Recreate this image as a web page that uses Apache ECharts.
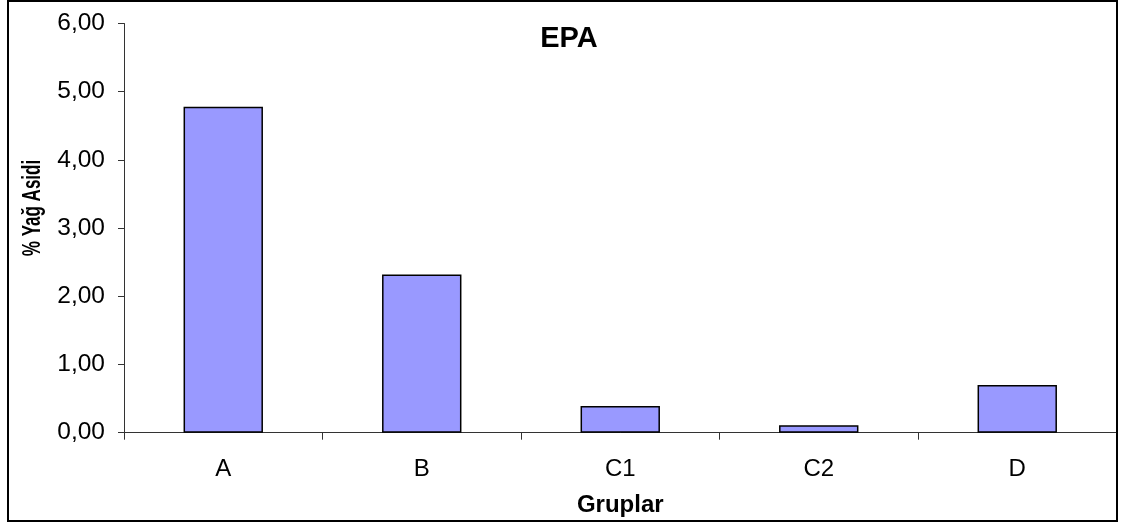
<!DOCTYPE html>
<html>
<head>
<meta charset="utf-8">
<title>EPA</title>
<script src="https://cdn.jsdelivr.net/npm/echarts@6/dist/echarts.min.js"></script>
<style>
  html, body { margin: 0; padding: 0; background: #ffffff; }
  #chart { width: 1128px; height: 523px; }
</style>
</head>
<body>
<div id="chart"></div>
<script>
// Groups and their EPA share (% of fatty acids)
const groups = ['A', 'B', 'C1', 'C2', 'D'];
const epaValues = [4.78, 2.32, 0.39, 0.11, 0.70];

const titleText = 'EPA';
const xAxisTitle = 'Gruplar';
const yAxisTitle = '% Yağ Asidi';

const FONT = '"Liberation Sans", Arial, sans-serif';

const chart = echarts.init(document.getElementById('chart'), null, { renderer: 'canvas' });

chart.setOption({
  animation: false,
  backgroundColor: '#ffffff',
  title: {
    text: titleText,
    left: 564,
    textAlign: 'center',
    top: 19,
    textStyle: { fontFamily: FONT, fontSize: 29, fontWeight: 'bold', color: '#000' }
  },
  grid: { left: 124, right: 11.5, top: 23.5, bottom: 90.3, containLabel: false },
  xAxis: {
    type: 'category',
    data: groups,
    name: xAxisTitle,
    nameLocation: 'middle',
    nameGap: 61,
    nameTextStyle: { fontFamily: FONT, fontSize: 24, fontWeight: 'bold', color: '#000' },
    axisLine: { show: true, lineStyle: { color: '#333', width: 1 } },
    axisTick: { show: true, inside: false, length: 7, lineStyle: { color: '#333' } },
    axisLabel: { fontFamily: FONT, fontSize: 24, color: '#000', margin: 25 },
    splitLine: { show: false }
  },
  yAxis: {
    type: 'value',
    min: 0,
    max: 6,
    interval: 1,
    axisLine: { show: true, lineStyle: { color: '#333', width: 1 } },
    axisTick: { show: true, inside: false, length: 6, lineStyle: { color: '#333' } },
    axisLabel: {
      fontFamily: FONT, fontSize: 24.5, color: '#000', margin: 19,
      formatter: v => v.toFixed(2).replace('.', ',')
    },
    splitLine: { show: false }
  },
  series: [{
    type: 'bar',
    data: epaValues,
    barWidth: '40%',
    itemStyle: { color: '#9999FF', borderColor: '#000', borderWidth: 1.5 }
  }],
  graphic: [
    {
      // vertical axis title, set in a condensed bold face
      type: 'text',
      x: 33,
      y: 208,
      rotation: Math.PI / 2,
      scaleX: 0.68,
      scaleY: 1,
      style: {
        text: yAxisTitle,
        font: 'bold 25px "Liberation Sans", Arial, sans-serif',
        fill: '#000',
        align: 'center',
        verticalAlign: 'middle'
      },
      silent: true
    },
    {
      type: 'rect',
      shape: { x: 8, y: 1, width: 1109, height: 520 },
      style: { fill: null, stroke: '#000', lineWidth: 2 },
      silent: true,
      z: 100
    }
  ]
});
</script>
</body>
</html>
